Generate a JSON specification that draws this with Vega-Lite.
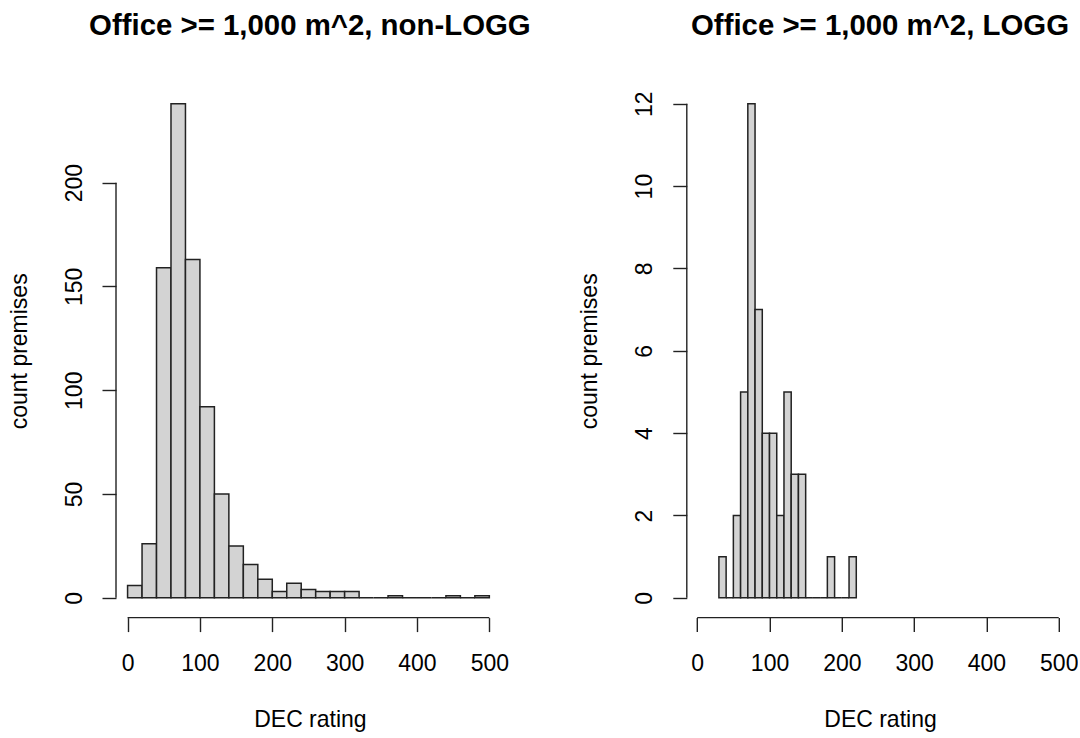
{
  "$schema": "https://vega.github.io/schema/vega-lite/v6.json",
  "padding": {"left": 8, "top": 10, "right": 0, "bottom": 0},
  "background": "white",
  "bounds": "flush",
  "spacing": 182.8,
  "datasets": {
    "nonlogg": [
      {"lo": 0, "hi": 20, "count": 6},
      {"lo": 20, "hi": 40, "count": 26},
      {"lo": 40, "hi": 60, "count": 159},
      {"lo": 60, "hi": 80, "count": 238},
      {"lo": 80, "hi": 100, "count": 163},
      {"lo": 100, "hi": 120, "count": 92},
      {"lo": 120, "hi": 140, "count": 50},
      {"lo": 140, "hi": 160, "count": 25},
      {"lo": 160, "hi": 180, "count": 16},
      {"lo": 180, "hi": 200, "count": 9},
      {"lo": 200, "hi": 220, "count": 3},
      {"lo": 220, "hi": 240, "count": 7},
      {"lo": 240, "hi": 260, "count": 4},
      {"lo": 260, "hi": 280, "count": 3},
      {"lo": 280, "hi": 300, "count": 3},
      {"lo": 300, "hi": 320, "count": 3},
      {"lo": 320, "hi": 340, "count": 0},
      {"lo": 340, "hi": 360, "count": 0},
      {"lo": 360, "hi": 380, "count": 1},
      {"lo": 380, "hi": 400, "count": 0},
      {"lo": 400, "hi": 420, "count": 0},
      {"lo": 420, "hi": 440, "count": 0},
      {"lo": 440, "hi": 460, "count": 1},
      {"lo": 460, "hi": 480, "count": 0},
      {"lo": 480, "hi": 500, "count": 1}
    ],
    "logg": [
      {"lo": 30, "hi": 40, "count": 1},
      {"lo": 40, "hi": 50, "count": 0},
      {"lo": 50, "hi": 60, "count": 2},
      {"lo": 60, "hi": 70, "count": 5},
      {"lo": 70, "hi": 80, "count": 12},
      {"lo": 80, "hi": 90, "count": 7},
      {"lo": 90, "hi": 100, "count": 4},
      {"lo": 100, "hi": 110, "count": 4},
      {"lo": 110, "hi": 120, "count": 2},
      {"lo": 120, "hi": 130, "count": 5},
      {"lo": 130, "hi": 140, "count": 3},
      {"lo": 140, "hi": 150, "count": 3},
      {"lo": 150, "hi": 160, "count": 0},
      {"lo": 160, "hi": 170, "count": 0},
      {"lo": 170, "hi": 180, "count": 0},
      {"lo": 180, "hi": 190, "count": 1},
      {"lo": 190, "hi": 200, "count": 0},
      {"lo": 200, "hi": 210, "count": 0},
      {"lo": 210, "hi": 220, "count": 1}
    ]
  },
  "hconcat": [
    {
      "width": 387.8,
      "height": 533.6,
      "title": {"text": "Office >= 1,000 m^2, non-LOGG"},
      "layer": [
        {
          "data": {"name": "nonlogg"},
          "mark": {"type": "bar", "fill": "#d3d3d3", "stroke": "#222222", "strokeWidth": 1.5},
          "encoding": {
            "x": {"field": "lo", "type": "quantitative", "scale": {"domain": [-16, 520], "nice": false, "zero": false},
              "axis": {"title": "DEC rating", "values": [0, 100, 200, 300, 400, 500]}},
            "x2": {"field": "hi"},
            "y": {"field": "count", "type": "quantitative", "scale": {"domain": [-9.52, 247.52], "nice": false, "zero": false},
              "axis": {"title": "count premises", "values": [0, 50, 100, 150, 200]}},
            "y2": {"datum": 0}
          }
        },
        {
          "data": {"values": [{}]},
          "mark": {"type": "rule", "color": "#222222", "strokeWidth": 1.4},
          "encoding": {"x": {"datum": 0}, "x2": {"datum": 500}, "y": {"datum": -9.52}}
        },
        {
          "data": {"values": [{}]},
          "mark": {"type": "rule", "color": "#222222", "strokeWidth": 1.4},
          "encoding": {"x": {"datum": -16}, "y": {"datum": 0}, "y2": {"datum": 200}}
        }
      ]
    },
    {
      "width": 386.4,
      "height": 533.6,
      "title": {"text": "Office >= 1,000 m^2, LOGG"},
      "layer": [
        {
          "data": {"name": "logg"},
          "mark": {"type": "bar", "fill": "#d3d3d3", "stroke": "#222222", "strokeWidth": 1.5},
          "encoding": {
            "x": {"field": "lo", "type": "quantitative", "scale": {"domain": [-14.4, 520], "nice": false, "zero": false},
              "axis": {"title": "DEC rating", "values": [0, 100, 200, 300, 400, 500]}},
            "x2": {"field": "hi"},
            "y": {"field": "count", "type": "quantitative", "scale": {"domain": [-0.48, 12.48], "nice": false, "zero": false},
              "axis": {"title": "count premises", "values": [0, 2, 4, 6, 8, 10, 12]}},
            "y2": {"datum": 0}
          }
        },
        {
          "data": {"values": [{}]},
          "mark": {"type": "rule", "color": "#222222", "strokeWidth": 1.4},
          "encoding": {"x": {"datum": 0}, "x2": {"datum": 500}, "y": {"datum": -0.48}}
        },
        {
          "data": {"values": [{}]},
          "mark": {"type": "rule", "color": "#222222", "strokeWidth": 1.4},
          "encoding": {"x": {"datum": -14.4}, "y": {"datum": 0}, "y2": {"datum": 12}}
        }
      ]
    }
  ],
  "config": {
    "view": {"stroke": null},
    "font": "Liberation Sans",
    "title": {"font": "Liberation Sans", "fontSize": 29.4, "fontWeight": "bold", "color": "#000000", "anchor": "middle", "frame": "group", "baseline": "alphabetic", "offset": 42.7},
    "axis": {
      "grid": false, "domain": false, "ticks": true, "tickSize": 14, "tickColor": "#222222", "tickWidth": 1.4,
      "labelFont": "Liberation Sans", "labelFontSize": 23, "labelColor": "#000000", "labelFlush": false, "labelOverlap": false,
      "titleFont": "Liberation Sans", "titleFontSize": 23, "titleFontWeight": "normal", "titleColor": "#000000"
    },
    "axisX": {"labelBaseline": "alphabetic", "labelPadding": 39, "labelAngle": 0, "labelAlign": "center", "minExtent": 60, "maxExtent": 60, "titlePadding": 49, "titleBaseline": "alphabetic"},
    "axisY": {"labelAngle": -90, "labelAlign": "center", "labelBaseline": "alphabetic", "labelPadding": 21, "minExtent": 50, "maxExtent": 50, "titlePadding": 40, "titleBaseline": "alphabetic", "titleAngle": -90}
  }
}
